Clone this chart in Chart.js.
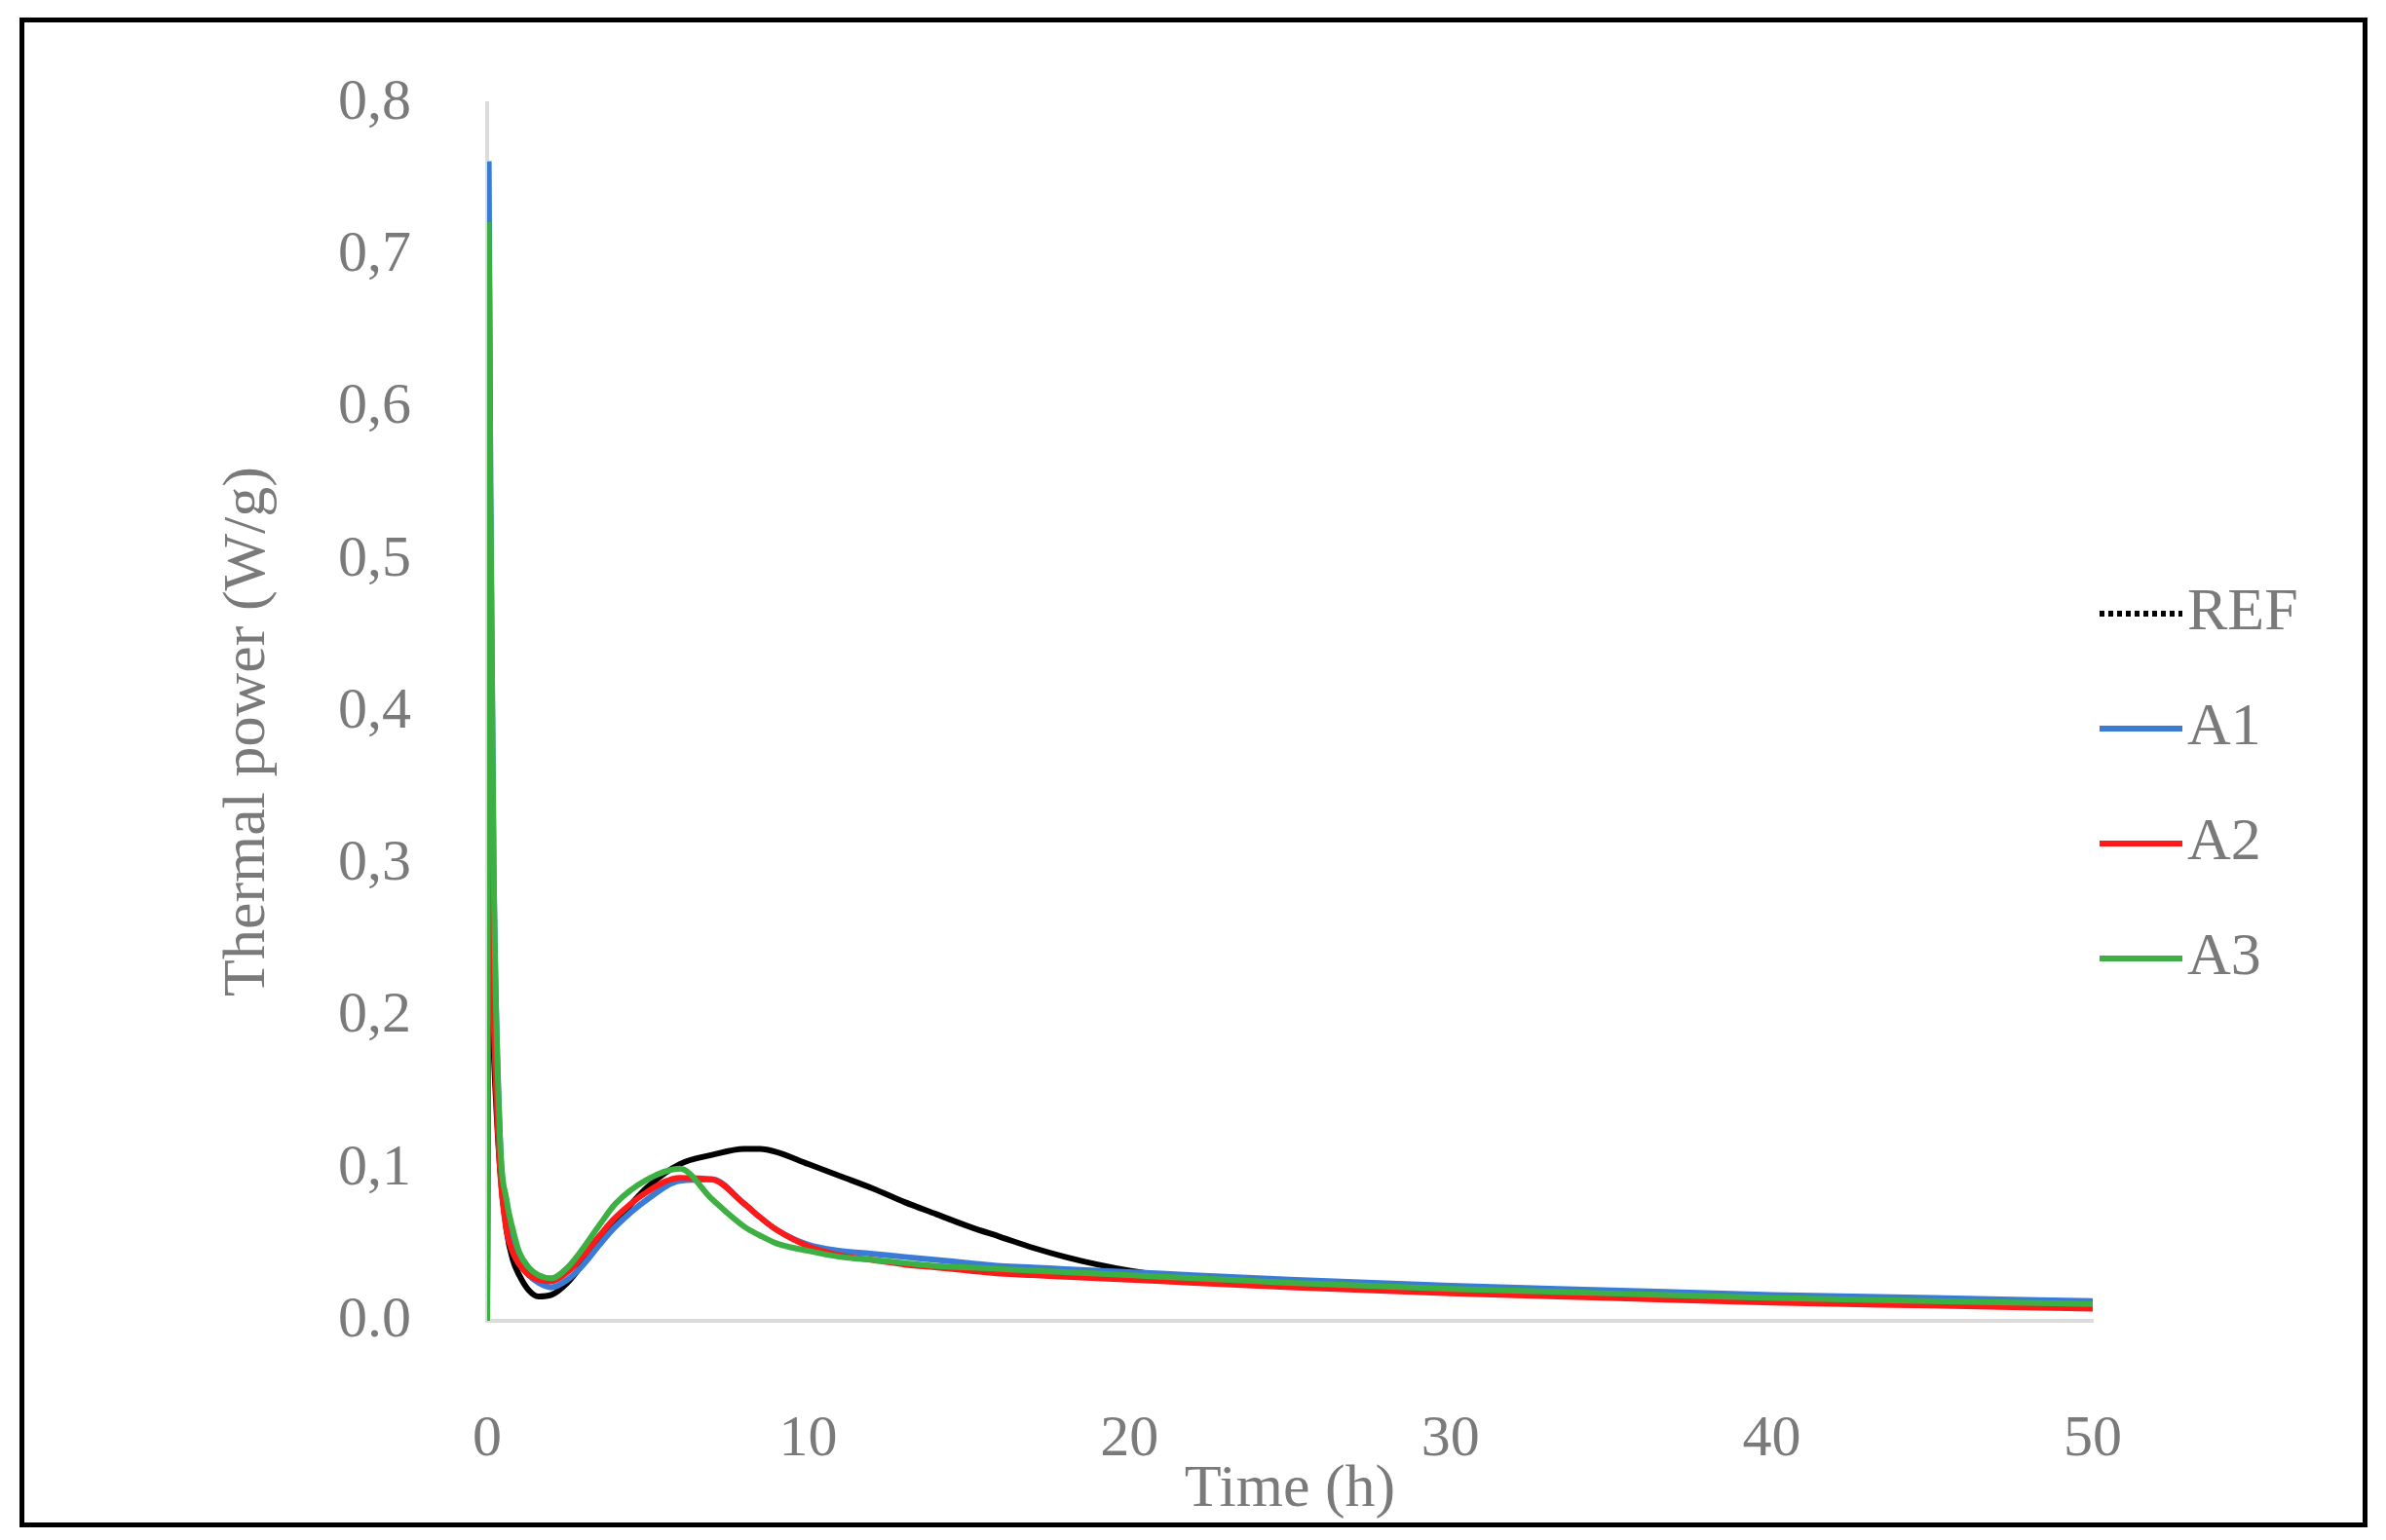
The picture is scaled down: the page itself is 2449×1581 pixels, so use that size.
<!DOCTYPE html>
<html>
<head>
<meta charset="utf-8">
<script src="https://cdn.jsdelivr.net/npm/chart.js@4.4.0/dist/chart.umd.min.js"></script>
<style>
  html, body { margin: 0; padding: 0; background: #fff; }
  #wrap { position: relative; width: 2449px; height: 1581px; }
  #frame { position: absolute; left: 20px; top: 18px; width: 2400px; height: 1540px; border: 5px solid #000; pointer-events: none; }
</style>
</head>
<body>
<div id="wrap">
  <canvas id="chart" width="2449" height="1581"></canvas>
  <div id="frame"></div>
</div>
<script>
// time (h)
const times = [0, 0.05, 0.1, 0.2, 0.4, 0.6, 0.8, 1.0, 1.3, 1.6, 2, 2.5, 3, 3.5, 4, 5, 6, 7, 8, 8.5, 9, 10, 11, 12, 13, 14, 15, 16, 17, 18, 19, 20, 21, 22, 23, 24, 25, 30, 35, 40, 45, 50];
const refValues = [0, 0.3, 0.25, 0.18, 0.1, 0.06, 0.04, 0.03, 0.02, 0.016, 0.017, 0.025, 0.038, 0.052, 0.065, 0.088, 0.103, 0.109, 0.113, 0.113, 0.111, 0.103, 0.095, 0.087, 0.078, 0.07, 0.062, 0.055, 0.048, 0.042, 0.037, 0.033, 0.03, 0.028, 0.026, 0.025, 0.024, 0.02, 0.017, 0.014, 0.012, 0.01];
const a1Values = [0, 0.76, 0.55, 0.3, 0.12, 0.07, 0.05, 0.04, 0.03, 0.025, 0.022, 0.027, 0.037, 0.05, 0.062, 0.08, 0.092, 0.093, 0.077, 0.068, 0.06, 0.05, 0.046, 0.044, 0.042, 0.04, 0.038, 0.036, 0.035, 0.034, 0.033, 0.032, 0.031, 0.03, 0.029, 0.028, 0.027, 0.023, 0.02, 0.017, 0.015, 0.013];
const a2Values = [0, 0.35, 0.3, 0.2, 0.1, 0.06, 0.045, 0.037, 0.03, 0.027, 0.026, 0.032, 0.043, 0.056, 0.068, 0.085, 0.094, 0.093, 0.077, 0.068, 0.06, 0.049, 0.043, 0.04, 0.037, 0.035, 0.033, 0.031, 0.03, 0.029, 0.028, 0.027, 0.026, 0.025, 0.024, 0.023, 0.022, 0.018, 0.015, 0.012, 0.01, 0.008];
const a3Values = [0, 0.72, 0.55, 0.3, 0.12, 0.08, 0.06, 0.045, 0.035, 0.03, 0.028, 0.035, 0.048, 0.063, 0.077, 0.093, 0.1, 0.08, 0.062, 0.056, 0.051, 0.046, 0.042, 0.04, 0.038, 0.036, 0.035, 0.034, 0.033, 0.032, 0.031, 0.03, 0.029, 0.028, 0.027, 0.026, 0.025, 0.021, 0.018, 0.015, 0.013, 0.011];
const yTickLabels = ['0.0', '0,1', '0,2', '0,3', '0,4', '0,5', '0,6', '0,7', '0,8'];

const seriesNames = ['REF', 'A1', 'A2', 'A3'];
const seriesColors = ['#000000', '#3a7bd5', '#ff1a1a', '#3cb043'];
const allValues = [refValues, a1Values, a2Values, a3Values];

const FONT = '"Liberation Serif", "DejaVu Serif", serif';
const GREY = '#7a7a7a';

// legend + axis titles drawn by hand to sit where the original has them
const extras = {
  id: 'extras',
  afterDraw(chart) {
    const ctx = chart.ctx;
    const area = chart.chartArea;
    ctx.save();
    ctx.fillStyle = GREY;
    ctx.font = '62px ' + FONT;
    ctx.textAlign = 'center';
    ctx.textBaseline = 'middle';
    ctx.fillText('Time (h)', (area.left + area.right) / 2, 1530);
    ctx.translate(255, (area.top + area.bottom) / 2 + 20);
    ctx.rotate(-Math.PI / 2);
    ctx.fillText('Thermal power (W/g)', 0, 0);
    ctx.restore();

    ctx.save();
    ctx.font = '62px ' + FONT;
    ctx.textBaseline = 'middle';
    seriesNames.forEach((name, i) => {
      const y = 630 + i * 118;
      ctx.strokeStyle = seriesColors[i];
      ctx.lineWidth = 6;
      ctx.setLineDash(i === 0 ? [5, 4] : []);
      ctx.beginPath();
      ctx.moveTo(2155, y);
      ctx.lineTo(2240, y);
      ctx.stroke();
      ctx.fillStyle = GREY;
      ctx.fillText(name, 2245, y);
    });
    ctx.restore();
  }
};

new Chart(document.getElementById('chart'), {
  type: 'line',
  data: {
    datasets: seriesNames.map((name, i) => ({
      label: name,
      data: times.map((t, j) => ({ x: t, y: allValues[i][j] })),
      borderColor: seriesColors[i],
      borderWidth: 6,
      pointRadius: 0,
      order: seriesNames.length - i,
      cubicInterpolationMode: 'monotone',
      fill: false
    }))
  },
  options: {
    responsive: false,
    animation: false,
    layout: { padding: { left: 30, right: 301, top: 103, bottom: 30 } },
    plugins: { legend: { display: false }, tooltip: { enabled: false } },
    scales: {
      x: {
        type: 'linear',
        min: 0,
        max: 50,
        afterFit: s => { s.height = 195; },
        grid: { display: false },
        border: { color: '#dcdcdc', width: 4 },
        ticks: { stepSize: 10, padding: 78, color: GREY, font: { family: FONT, size: 60 } }
      },
      y: {
        min: 0,
        max: 0.8,
        afterFit: s => { s.width = 470; },
        grid: { display: false },
        border: { color: '#dcdcdc', width: 4 },
        ticks: {
          stepSize: 0.1,
          padding: 70,
          color: GREY,
          font: { family: FONT, size: 60 },
          callback: (v, i) => yTickLabels[i]
        }
      }
    }
  },
  plugins: [extras]
});
</script>
</body>
</html>
